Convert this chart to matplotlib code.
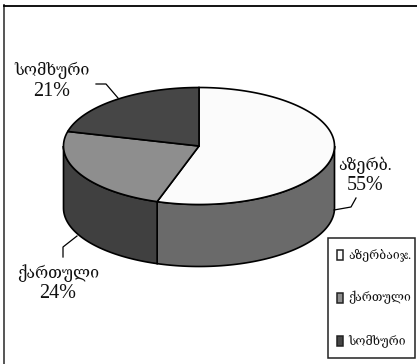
# -*- coding: utf-8 -*-
"""
Language shares, drawn as a tilted pie with a side wall.
"""

import numpy as np
import matplotlib
matplotlib.use("Agg")
import matplotlib.pyplot as plt
from matplotlib.patches import Polygon, Rectangle

labels = ["აზერბ.", "ქართული", "სომხური"]
legend_labels = ["აზერბაიჯ.", "ქართული", "სომხური"]
shares = [55, 24, 21]

top_colors = ["#fbfbfb", "#8e8e8e", "#464646"]
side_colors = ["#6a6a6a", "#404040", "#2e2e2e"]

W, H = 417, 364
CX, CY, RX, RY, DEPTH = 199, 146, 135.5, 58.5, 62
FONTS = ["Liberation Serif", "DejaVu Serif", "DejaVu Sans"]


def rim(theta):
    # theta runs clockwise from 12 o'clock, in degrees
    t = np.radians(theta)
    return CX + RX * np.sin(t), CY - RY * np.cos(t)


fig = plt.figure(figsize=(W / 100, H / 100), dpi=100)
ax = fig.add_axes([0, 0, 1, 1])
ax.set_xlim(0, W)
ax.set_ylim(H, 0)
ax.axis("off")

# outer frame, open at the right and bottom
ax.plot([4.5, 4.5], [5, H], color="#555555", lw=1.4, zorder=1)
ax.plot([4, W], [5.5, 5.5], color="black", lw=1.3, zorder=1)

edges = np.cumsum([0] + shares) / sum(shares) * 360

# side wall first, only the front half can be seen
for i in range(len(shares)):
    a, b = max(edges[i], 90), min(edges[i + 1], 270)
    if a >= b:
        continue
    th = np.linspace(a, b, 80)
    x, y = rim(th)
    pts = np.r_[np.c_[x, y], np.c_[x[::-1], y[::-1] + DEPTH]]
    ax.add_patch(Polygon(pts, closed=True, fc=side_colors[i], ec="black", lw=1.2, zorder=2))

# top face
for i in range(len(shares)):
    th = np.linspace(edges[i], edges[i + 1], 120)
    x, y = rim(th)
    pts = np.r_[[[CX, CY]], np.c_[x, y]]
    ax.add_patch(Polygon(pts, closed=True, fc=top_colors[i], ec="black", lw=1.2, zorder=3))

# value labels and their leader lines
name_pos = [(365, 165), (58, 273), (52, 70)]
value_pos = [(365, 186), (58, 294), (52, 92)]
leaders = [
    ([334, 351, 356], [210, 207, 198]),
    ([77, 63, 63], [236, 247, 257]),
    ([118, 106, 96], [98, 84, 84]),
]
for i in range(len(shares)):
    ax.plot(leaders[i][0], leaders[i][1], color="black", lw=0.9, zorder=4)
    ax.text(name_pos[i][0], name_pos[i][1], labels[i], family=FONTS, fontsize=11.5,
            ha="center", va="center", color="#111111", zorder=5)
    ax.text(value_pos[i][0], value_pos[i][1], str(shares[i]) + "%", family=FONTS, fontsize=14.5,
            ha="center", va="center", color="#111111", zorder=5)

# legend box
ax.add_patch(Rectangle((328.5, 237.5), 87, 120.5, fc="white", ec="#222222", lw=1.1, zorder=4))
legend_y = [255, 298, 341]
for i in range(len(shares)):
    ax.add_patch(Rectangle((337, legend_y[i] - 5), 6, 10, fc=top_colors[i], ec="#222222",
                           lw=1.1, zorder=5))
    ax.text(348, legend_y[i], legend_labels[i], family=FONTS, fontsize=8.8,
            ha="left", va="center", color="#111111", zorder=5)

fig.savefig("out.png", dpi=100, facecolor="white")
